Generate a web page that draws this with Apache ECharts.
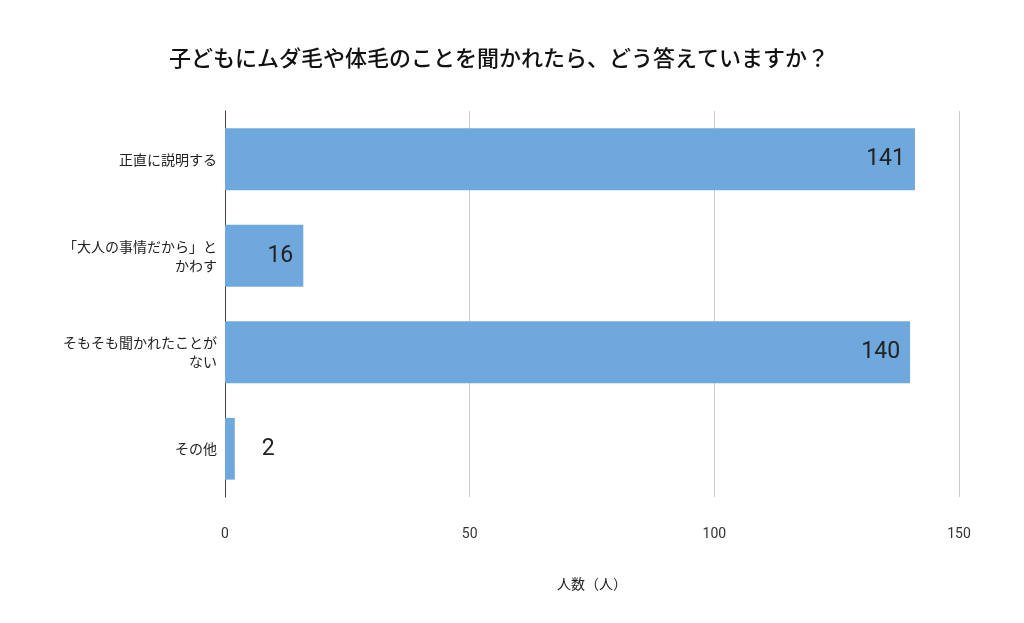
<!DOCTYPE html>
<html>
<head>
<meta charset="utf-8">
<script src="https://cdn.jsdelivr.net/npm/echarts@6/dist/echarts.min.js"></script>
<style>html,body{margin:0;padding:0;background:#fff}#container{width:1024px;height:623px}</style>
</head>
<body>
<div id="container"></div>
<script>
var categories = ['正直に説明する', '「大人の事情だから」と\nかわす', 'そもそも聞かれたことが\nない', 'その他'];
var counts = [141, 16, 140, 2];
var xTicks = [0, 50, 100, 150];

var myChart = echarts.init(document.getElementById('container'));
var font = '"Noto Sans CJK JP", Roboto, sans-serif';
var option = {
    textStyle: { fontFamily: font },
    title: {
        text: '子どもにムダ毛や体毛のことを聞かれたら、どう答えていますか？',
        left: 494, top: 42, textAlign: 'center',
        textStyle: { fontSize: 22, fontWeight: 500, color: '#111', fontFamily: font }
    },
    grid: { left: 225, right: 65, top: 111, bottom: 126 },
    xAxis: {
        type: 'value', min: xTicks[0], max: xTicks[xTicks.length - 1], interval: 50,
        name: '人数（人）', nameLocation: 'middle', nameGap: 80,
        nameTextStyle: { fontSize: 14, color: '#222' },
        axisLine: { show: false }, axisTick: { show: false },
        axisLabel: { fontSize: 14, color: '#333', margin: 30, fontFamily: 'Roboto' },
        splitLine: { lineStyle: { color: '#ccc' } }
    },
    yAxis: {
        type: 'category', inverse: true, data: categories,
        axisLine: { lineStyle: { color: '#444' } }, axisTick: { show: false },
        axisLabel: { fontSize: 14, color: '#222', margin: 8, lineHeight: 19 }
    },
    series: [{
        type: 'bar', barCategoryGap: '36%',
        itemStyle: { color: '#6fa8dc' },
        label: {
            show: true, fontSize: 23, color: '#222', fontFamily: 'Roboto',
            position: 'insideRight', distance: 10
        },
        data: counts.map(function (v) {
            return v > 10 ? v : { value: v, label: { position: 'right', distance: 27 } };
        })
    }]
};
myChart.setOption(option);
</script>
</body>
</html>
